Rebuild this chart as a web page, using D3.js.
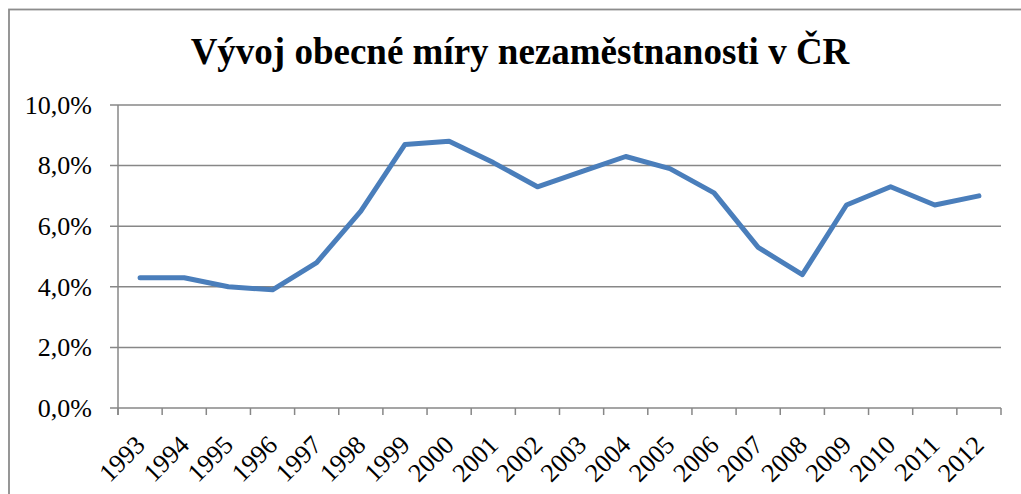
<!DOCTYPE html>
<html>
<head>
<meta charset="utf-8">
<script src="https://cdn.jsdelivr.net/npm/d3@7"></script>
<style>
body { margin: 0; background: #fff; }
</style>
</head>
<body>
<div id="chart"></div>
<script>
var years = ["1993","1994","1995","1996","1997","1998","1999","2000","2001","2002",
             "2003","2004","2005","2006","2007","2008","2009","2010","2011","2012"];
var rates = [4.3, 4.3, 4.0, 3.9, 4.8, 6.5, 8.7, 8.8, 8.1, 7.3,
             7.8, 8.3, 7.9, 7.1, 5.3, 4.4, 6.7, 7.3, 6.7, 7.0];
var yTicks = [0, 2, 4, 6, 8, 10];
var title = "Vývoj obecné míry nezaměstnanosti v ČR";

var W = 1021, H = 494;
var margin = {top: 105, right: 20, bottom: 86, left: 118},
    width = 1001 - margin.left,
    height = 408 - margin.top;
var font = "'Liberation Serif', 'Times New Roman', serif";

var svg = d3.select("#chart")
  .append("svg")
  .attr("width", W)
  .attr("height", H);

// outer frame (runs off the right and bottom edges)
svg.append("rect")
  .attr("x", 9).attr("y", 9.5)
  .attr("width", 1100).attr("height", 600)
  .attr("fill", "none")
  .attr("stroke", "#8c8c8c")
  .attr("stroke-width", 1.8);

svg.append("text")
  .attr("x", 520)
  .attr("y", 64)
  .attr("text-anchor", "middle")
  .style("font-family", font)
  .style("font-weight", "bold")
  .style("font-size", "37px")
  .text(title);

var g = svg.append("g")
  .attr("transform", "translate(" + margin.left + "," + margin.top + ")");

var x = d3.scaleBand()
  .domain(years)
  .range([0, width]);

var y = d3.scaleLinear()
  .domain([0, 10])
  .range([height, 0]);

// gridlines
g.append("g")
  .selectAll("line")
  .data(yTicks)
  .enter()
  .append("line")
  .attr("x1", -8)
  .attr("x2", width)
  .attr("y1", function(d) { return y(d); })
  .attr("y2", function(d) { return y(d); })
  .attr("stroke", "#878787")
  .attr("stroke-width", 1.5);

// y axis
var yAxis = g.append("g")
  .call(d3.axisLeft(y).tickValues(yTicks).tickSize(0).tickPadding(26)
    .tickFormat(function(d) { return d.toFixed(1).replace(".", ",") + "%"; }));
yAxis.select(".domain").remove();
yAxis.selectAll("text")
  .style("font-family", font)
  .style("font-size", "26px")
  .attr("fill", "#000");

g.append("line")
  .attr("x1", 0).attr("x2", 0)
  .attr("y1", 0).attr("y2", height + 7)
  .attr("stroke", "#878787")
  .attr("stroke-width", 1.5);

// x axis ticks at category boundaries
var bounds = years.map(function(d) { return x(d); }).concat([width]);
g.append("g")
  .selectAll("line")
  .data(bounds)
  .enter()
  .append("line")
  .attr("x1", function(d) { return d; })
  .attr("x2", function(d) { return d; })
  .attr("y1", height)
  .attr("y2", height + 7)
  .attr("stroke", "#878787")
  .attr("stroke-width", 1.5);

g.append("g")
  .selectAll("text")
  .data(years)
  .enter()
  .append("text")
  .attr("transform", function(d) {
    return "translate(" + (x(d) + x.bandwidth() / 2) + "," + (height + 32) + ") rotate(-45)";
  })
  .attr("text-anchor", "end")
  .attr("dy", "0.35em")
  .style("font-family", font)
  .style("font-size", "26px")
  .text(function(d) { return d; });

// line
var line = d3.line()
  .x(function(d, i) { return x(years[i]) + x.bandwidth() / 2; })
  .y(function(d) { return y(d); });

g.append("path")
  .datum(rates)
  .attr("fill", "none")
  .attr("stroke", "#4a7ebb")
  .attr("stroke-width", 5)
  .attr("stroke-linejoin", "round")
  .attr("stroke-linecap", "round")
  .attr("d", line);
</script>
</body>
</html>
